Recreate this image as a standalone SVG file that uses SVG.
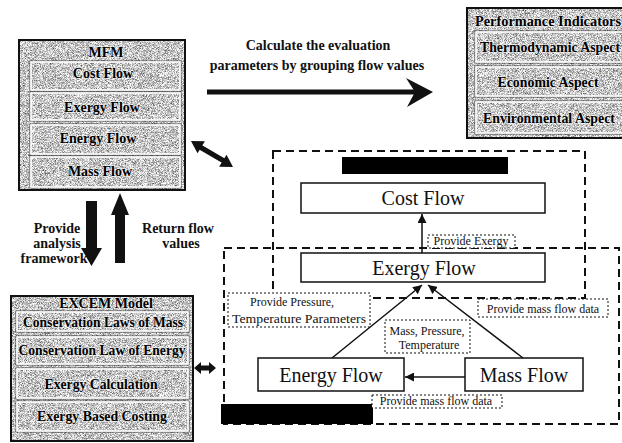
<svg xmlns="http://www.w3.org/2000/svg" width="622" height="443" viewBox="0 0 622 443">
<style>
  .tex{fill:#bbb;filter:url(#grain)}
  .obox{fill:none;stroke:#111;stroke-width:2}
  .ibox{fill:none;stroke:#fff;stroke-width:1.6}
  .ibox2{fill:none;stroke:#333;stroke-width:0.8}
  .tt{font-family:"Liberation Serif",serif;font-weight:bold;font-size:14px;fill:#000;text-anchor:middle;stroke:#fff;stroke-width:1.6;stroke-opacity:0.6;paint-order:stroke}
  .cap{font-family:"Liberation Serif",serif;font-weight:bold;font-size:14px;fill:#111;text-anchor:middle}
  .node{fill:#fff;stroke:#111;stroke-width:1.5}
  .nt{font-family:"Liberation Serif",serif;font-size:20px;fill:#111;text-anchor:middle}
  .dash{fill:none;stroke:#111;stroke-width:2;stroke-dasharray:8 5}
  .dot{fill:#fff;stroke:#111;stroke-width:1;stroke-dasharray:2 2}
  .lt{font-family:"Liberation Serif",serif;font-size:12px;fill:#111;text-anchor:middle}
  .ln{fill:none;stroke:#111;stroke-width:1.5}
</style>
<defs>
  <filter id="grain" x="0" y="0" width="1" height="1" color-interpolation-filters="sRGB">
    <feTurbulence type="fractalNoise" baseFrequency="1.6" numOctaves="1" seed="7" result="t"/>
    <feColorMatrix in="t" type="matrix" values="1.5 0 0 0 0.02  1.5 0 0 0 0.02  1.5 0 0 0 0.02  0 0 0 0 1" result="g"/>
    <feComposite in="g" in2="SourceGraphic" operator="in"/>
  </filter>
  <marker id="ah" viewBox="0 0 10 10" refX="10" refY="5" markerWidth="6" markerHeight="6" orient="auto" markerUnits="strokeWidth">
    <path d="M0,0 L10,5 L0,10 z" fill="#111"/>
  </marker>
</defs>

<rect width="622" height="443" fill="#fff"/>

<g id="mfm">
  <rect class="tex" x="19" y="40" width="166" height="150"/>
  <rect class="obox" x="19" y="40" width="166" height="150"/>
  <text class="tt" x="106" y="57" font-size="13">MFM</text>
  <rect class="ibox2" x="30" y="61" width="151" height="30"/>
  <rect class="ibox" x="31" y="62" width="149" height="28"/>
  <text class="tt" x="103" y="78">Cost Flow</text>
  <rect class="ibox2" x="30" y="92" width="151" height="29"/>
  <rect class="ibox" x="31" y="93" width="149" height="27"/>
  <text class="tt" x="102" y="112">Exergy Flow</text>
  <rect class="ibox2" x="30" y="124" width="151" height="31"/>
  <rect class="ibox" x="31" y="125" width="149" height="29"/>
  <text class="tt" x="98" y="143">Energy Flow</text>
  <rect class="ibox2" x="30" y="156" width="151" height="32"/>
  <rect class="ibox" x="31" y="157" width="149" height="30"/>
  <text class="tt" x="100" y="176">Mass Flow</text>
</g>

<g id="performance">
  <rect class="tex" x="467" y="8" width="160" height="130"/>
  <rect class="obox" x="467" y="8" width="160" height="130"/>
  <text class="tt" x="548" y="26" font-size="13" textLength="146" lengthAdjust="spacingAndGlyphs">Performance Indicators</text>
  <rect class="ibox2" x="475" y="31" width="152" height="32"/>
  <rect class="ibox" x="476" y="32" width="150" height="30"/>
  <text class="tt" x="550" y="52" textLength="140" lengthAdjust="spacingAndGlyphs">Thermodynamic Aspect</text>
  <rect class="ibox2" x="475" y="66" width="152" height="31"/>
  <rect class="ibox" x="476" y="67" width="150" height="29"/>
  <text class="tt" x="548" y="87" textLength="101" lengthAdjust="spacingAndGlyphs">Economic Aspect</text>
  <rect class="ibox2" x="475" y="101" width="152" height="33"/>
  <rect class="ibox" x="476" y="102" width="150" height="31"/>
  <text class="tt" x="549" y="123" textLength="132" lengthAdjust="spacingAndGlyphs">Environmental Aspect</text>
</g>

<g id="excem">
  <rect class="tex" x="11" y="296" width="182" height="145"/>
  <rect class="obox" x="11" y="296" width="182" height="145"/>
  <text class="tt" x="106" y="308" font-size="12">EXCEM Model</text>
  <rect class="ibox2" x="16" y="311" width="173" height="21"/>
  <rect class="ibox" x="17" y="312" width="171" height="19"/>
  <text class="tt" x="103" y="327" textLength="160" lengthAdjust="spacingAndGlyphs">Conservation Laws of Mass</text>
  <rect class="ibox2" x="16" y="336" width="173" height="29"/>
  <rect class="ibox" x="17" y="337" width="171" height="27"/>
  <text class="tt" x="102" y="355" textLength="167" lengthAdjust="spacingAndGlyphs">Conservation Law of Energy</text>
  <rect class="ibox2" x="16" y="368" width="173" height="31"/>
  <rect class="ibox" x="17" y="369" width="171" height="29"/>
  <text class="tt" x="101" y="389" textLength="113" lengthAdjust="spacingAndGlyphs">Exergy Calculation</text>
  <rect class="ibox2" x="16" y="401" width="173" height="31"/>
  <rect class="ibox" x="17" y="402" width="171" height="29"/>
  <text class="tt" x="102" y="421" textLength="130" lengthAdjust="spacingAndGlyphs">Exergy Based Costing</text>
</g>

<g id="captions">
  <text class="cap" x="318" y="50">Calculate the evaluation</text>
  <text class="cap" x="317" y="70">parameters by grouping flow values</text>
  <text class="cap" x="57" y="233" font-size="13.5">Provide</text>
  <text class="cap" x="57" y="248" font-size="13.5">analysis</text>
  <text class="cap" x="54" y="263" font-size="13.5">framework</text>
  <text class="cap" x="178" y="233" font-size="13.5">Return flow</text>
  <text class="cap" x="181" y="248" font-size="13.5">values</text>
</g>

<g id="upper-group">
  <rect class="dash" x="273" y="151" width="312" height="147"/>
  <rect x="342" y="157" width="166" height="17" fill="#000"/>
</g>
<g id="lower-group">
  <rect class="dash" x="224" y="248" width="395" height="176"/>
  <rect x="221" y="404" width="152" height="20" fill="#000"/>
</g>

<g id="cost-flow">
  <rect class="node" x="301" y="183" width="244" height="30"/>
  <text class="nt" x="423" y="205">Cost Flow</text>
</g>
<g id="exergy-flow">
  <rect class="node" x="301" y="253" width="244" height="29"/>
  <text class="nt" x="424" y="275" font-size="21">Exergy Flow</text>
</g>
<g id="energy-flow">
  <rect class="node" x="258" y="358" width="146" height="33"/>
  <text class="nt" x="331" y="382">Energy Flow</text>
</g>
<g id="mass-flow">
  <rect class="node" x="465" y="358" width="118" height="33"/>
  <text class="nt" x="524" y="382">Mass Flow</text>
</g>

<g id="connectors">
  <line x1="207" y1="92" x2="418" y2="92" stroke="#111" stroke-width="5"/>
  <polygon points="406,78 433,92 407,107 415,92" fill="#111"/>
  <polygon points="86,201 97,201 97,248 102,248 91.5,266 81,248 86,248" fill="#111"/>
  <polygon points="120,193 129,215 125,215 125,263 115,263 115,215 111,215" fill="#111"/>
  <line x1="200" y1="147" x2="224" y2="161" stroke="#111" stroke-width="5"/>
  <polygon points="191,141 204.9,141.3 197.5,153.3" fill="#111"/>
  <polygon points="233,167 219.1,166.7 226.5,154.7" fill="#111"/>
  <polygon points="194,368 201,362 201,365.5 209,365.5 209,362 216,368 209,374 209,370.5 201,370.5 201,374" fill="#111"/>
  <line class="ln" x1="422" y1="253" x2="422" y2="214" marker-end="url(#ah)"/>
  <line class="ln" x1="332" y1="358" x2="422" y2="285" marker-end="url(#ah)"/>
  <line class="ln" x1="523" y1="358" x2="428" y2="285" marker-end="url(#ah)"/>
  <line class="ln" x1="465" y1="377" x2="405" y2="377" marker-end="url(#ah)"/>
</g>

<g id="label-provide-exergy">
  <rect class="dot" x="428" y="235" width="87" height="13"/>
  <text class="lt" x="471" y="245" font-size="11.5">Provide Exergy</text>
</g>
<g id="label-pressure-temp">
  <rect class="dot" x="228" y="293" width="142" height="34"/>
  <text class="lt" x="292" y="306">Provide Pressure,</text>
  <text class="lt" x="299" y="323" textLength="134" lengthAdjust="spacingAndGlyphs">Temperature Parameters</text>
</g>
<g id="label-mass-data-right">
  <rect class="dot" x="478" y="299" width="130" height="18"/>
  <text class="lt" x="543" y="313">Provide mass flow data</text>
</g>
<g id="label-mass-pressure-temp">
  <rect class="dot" x="385" y="320" width="85" height="33"/>
  <text class="lt" x="427" y="335">Mass, Pressure,</text>
  <text class="lt" x="429" y="349">Temperature</text>
</g>
<g id="label-mass-data-bottom">
  <rect class="dot" x="372" y="395" width="130" height="13"/>
  <text class="lt" x="436" y="405">Provide mass flow data</text>
</g>
</svg>
